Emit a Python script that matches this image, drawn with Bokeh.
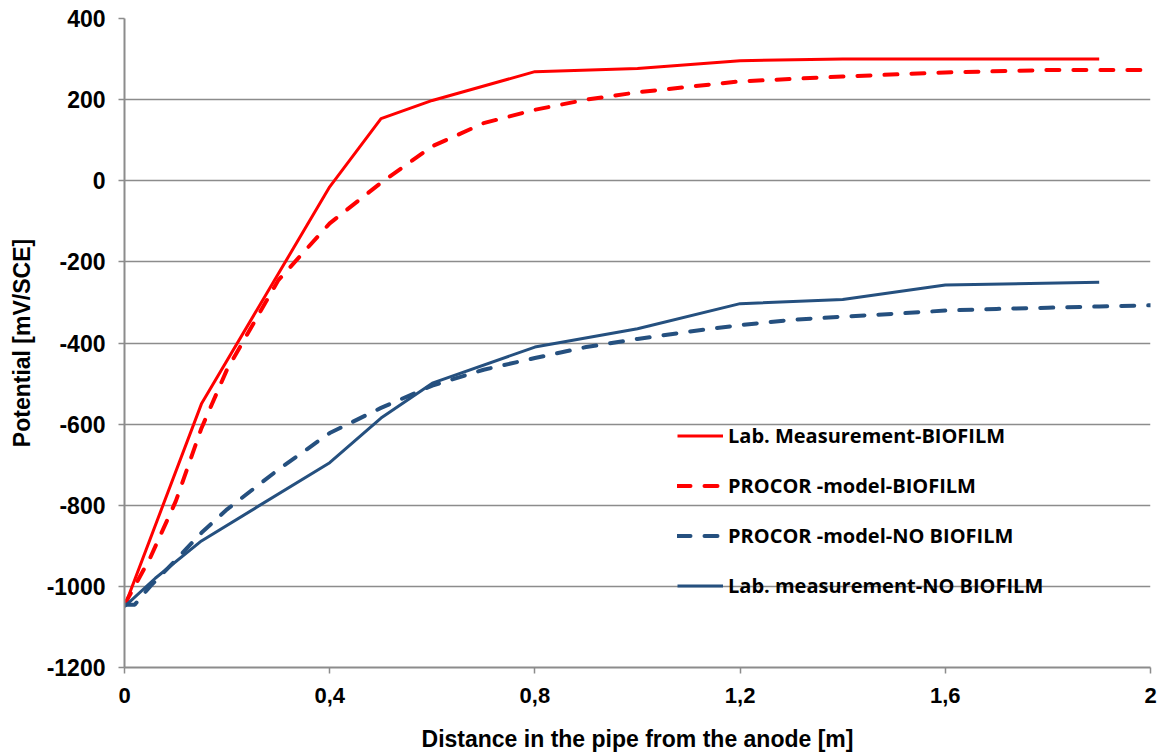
from bokeh.plotting import figure
from bokeh.models import Legend, LegendItem, FixedTicker, Range1d
from bokeh.embed import file_html
from bokeh.resources import INLINE

# Lab. Measurement-BIOFILM
x_lab_bio = [0, 0.15, 0.4, 0.5, 0.6, 0.8, 1.0, 1.2, 1.4, 1.6, 1.9]
y_lab_bio = [-1050, -550, -15, 153, 198, 269, 277, 296, 300, 300, 300]

# PROCOR-model-BIOFILM
x_mod_bio = [0, 0.05, 0.1, 0.15, 0.2, 0.3, 0.4, 0.5, 0.6, 0.7, 0.8, 0.9, 1.0, 1.2, 1.4, 1.6, 1.8, 2.0]
y_mod_bio = [-1045, -930, -790, -610, -465, -245, -105, -5, 85, 142, 175, 200, 218, 245, 257, 267, 273, 273]

# PROCOR-model-NO BIOFILM
x_mod_nob = [0, 0.02, 0.05, 0.1, 0.15, 0.2, 0.3, 0.4, 0.5, 0.6, 0.7, 0.8, 0.9, 1.0, 1.1, 1.2, 1.3, 1.4, 1.5, 1.6, 1.7, 1.8, 1.9, 2.0]
y_mod_nob = [-1045, -1045, -1000, -935, -868, -810, -712, -622, -560, -505, -466, -437, -410, -390, -372, -356, -343, -335, -328, -320, -316, -313, -310, -307]

# Lab. measurement-NO BIOFILM
x_lab_nob = [0, 0.06, 0.15, 0.4, 0.5, 0.6, 0.8, 1.0, 1.2, 1.4, 1.6, 1.9]
y_lab_nob = [-1050, -980, -888, -695, -585, -499, -410, -365, -303, -293, -257, -250]

x_ticks = [0, 0.4, 0.8, 1.2, 1.6, 2.0]
x_tick_labels = ["0", "0,4", "0,8", "1,2", "1,6", "2"]
y_ticks = [-1200, -1000, -800, -600, -400, -200, 0, 200, 400]
y_tick_labels = ["-1200", "-1000", "-800", "-600", "-400", "-200", "0", "200", "400"]

RED = "#FF0000"
BLUE = "#25507F"
GRID = "#8C8C8C"
TICK_FONT = "Liberation Sans, Arial, sans-serif"
LEG_FONT = "Open Sans, sans-serif"

p = figure(width=1163, height=756, output_backend="svg", toolbar_location=None,
           x_range=Range1d(0, 2), y_range=Range1d(-1200, 400),
           min_border_left=124, min_border_right=13, min_border_top=18, min_border_bottom=89)
p.outline_line_color = None
p.background_fill_color = "white"
p.border_fill_color = "white"

r1 = p.line(x_lab_bio, y_lab_bio, line_color=RED, line_width=3)
r2 = p.line(x_mod_bio, y_mod_bio, line_color=RED, line_width=4, line_dash="13 14", line_cap="round")
r3 = p.line(x_mod_nob, y_mod_nob, line_color=BLUE, line_width=4, line_dash="13 14", line_cap="round")
r4 = p.line(x_lab_nob, y_lab_nob, line_color=BLUE, line_width=3)

p.xgrid.grid_line_color = None
p.ygrid.grid_line_color = GRID
p.ygrid.grid_line_width = 1.5
p.ygrid.ticker = FixedTicker(ticks=y_ticks)

p.xaxis.ticker = FixedTicker(ticks=x_ticks)
p.xaxis.major_label_overrides = {t: l for t, l in zip(x_ticks, x_tick_labels)}
p.yaxis.ticker = FixedTicker(ticks=y_ticks)
p.yaxis.major_label_overrides = {t: l for t, l in zip(y_ticks, y_tick_labels)}

for ax in (p.xaxis[0], p.yaxis[0]):
    ax.axis_line_color = GRID
    ax.axis_line_width = 2
    ax.major_tick_line_color = GRID
    ax.major_tick_line_width = 1.5
    ax.major_tick_out = 6
    ax.major_tick_in = 0
    ax.minor_tick_line_color = None
    ax.major_label_text_font = TICK_FONT
    ax.major_label_text_font_style = "bold"
    ax.major_label_text_color = "black"
    ax.axis_label_text_font_style = "bold"
    ax.axis_label_text_color = "black"

p.xaxis.major_label_text_font_size = "22px"
p.yaxis.major_label_text_font_size = "23px"
p.xaxis.major_label_standoff = 14
p.yaxis.major_label_standoff = 13
p.xaxis.axis_label = "Distance in the pipe from the anode [m]"
p.xaxis.axis_label_text_font = TICK_FONT
p.xaxis.axis_label_text_font_size = "23px"
p.xaxis.axis_label_standoff = 20
p.yaxis.axis_label = "Potential [mV/SCE]"
p.yaxis.axis_label_text_font = TICK_FONT
p.yaxis.axis_label_text_font_size = "23px"
p.yaxis.axis_label_standoff = 9

legend = Legend(items=[
    LegendItem(label="Lab. Measurement-BIOFILM", renderers=[r1]),
    LegendItem(label="PROCOR -model-BIOFILM", renderers=[r2]),
    LegendItem(label="PROCOR -model-NO BIOFILM", renderers=[r3]),
    LegendItem(label="Lab. measurement-NO BIOFILM", renderers=[r4]),
], location=(553, 68))
legend.background_fill_alpha = 0
legend.border_line_color = None
legend.padding = 0
legend.margin = 0
legend.spacing = 23
legend.label_height = 27
legend.glyph_height = 27
legend.glyph_width = 46
legend.label_standoff = 5
legend.label_text_font = LEG_FONT
legend.label_text_font_style = "bold"
legend.label_text_font_size = "20px"
legend.label_text_color = "black"
p.add_layout(legend)

open("out.html", "w").write(file_html(p, INLINE))
